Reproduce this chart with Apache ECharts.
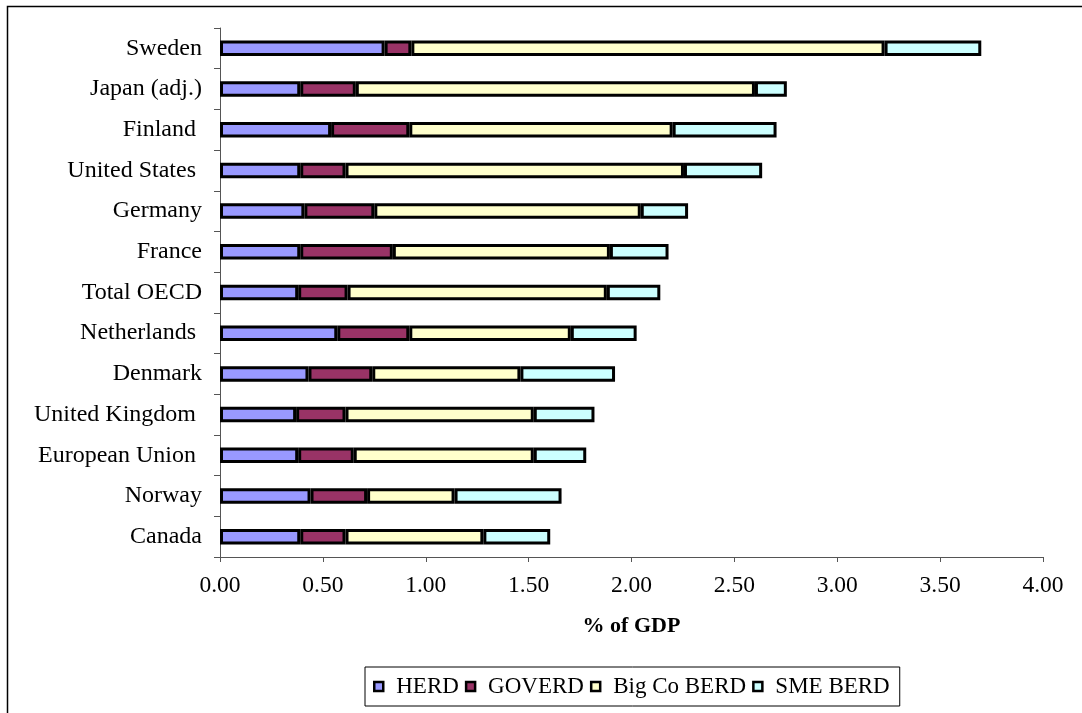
<!DOCTYPE html>
<html>
<head>
<meta charset="utf-8">
<script src="https://cdn.jsdelivr.net/npm/echarts@6/dist/echarts.min.js"></script>
<style>
  html, body { margin: 0; padding: 0; background: #fff; }
  #chart { width: 1082px; height: 713px; }
</style>
</head>
<body>
<div id="chart"></div>
<script>
// R&D expenditure by performing sector, % of GDP (listed top to bottom)
const countries = ['Sweden', 'Japan (adj.)', 'Finland ', 'United States ', 'Germany', 'France',
  'Total OECD', 'Netherlands ', 'Denmark', 'United Kingdom ', 'European Union ', 'Norway', 'Canada'];
const herd    = [0.80, 0.39, 0.54, 0.39, 0.41, 0.39, 0.38, 0.57, 0.43, 0.37, 0.38, 0.44, 0.39];
const goverd  = [0.13, 0.27, 0.38, 0.22, 0.34, 0.45, 0.24, 0.35, 0.31, 0.24, 0.27, 0.275, 0.22];
const bigCo   = [2.30, 1.94, 1.28, 1.645, 1.295, 1.055, 1.26, 0.785, 0.72, 0.915, 0.875, 0.425, 0.67];
const sme     = [0.47, 0.155, 0.505, 0.38, 0.23, 0.285, 0.26, 0.32, 0.46, 0.295, 0.255, 0.52, 0.325];
const seriesNames = ['HERD', 'GOVERD', 'Big Co BERD', 'SME BERD'];
const seriesColors = ['#9999FF', '#993366', '#FFFFCC', '#CCFFFF'];
const seriesValues = [herd, goverd, bigCo, sme];

const FONT = '"Liberation Serif", "Times New Roman", serif';

const chart = echarts.init(document.getElementById('chart'), null, { renderer: 'canvas' });

chart.setOption({
  animation: false,
  backgroundColor: '#ffffff',
  textStyle: { fontFamily: FONT, color: '#000' },
  graphic: [{
    type: 'rect',
    shape: { x: 7.5, y: 6.5, width: 1200, height: 800 },
    style: { fill: 'none', stroke: '#000', lineWidth: 1.5 },
    silent: true,
    z: 0
  }],
  grid: { left: 220, right: 39, top: 28, bottom: 156, containLabel: false },
  xAxis: {
    type: 'value',
    min: 0,
    max: 4,
    interval: 0.5,
    name: '% of GDP',
    nameLocation: 'middle',
    nameGap: 58,
    nameTextStyle: { fontFamily: FONT, fontSize: 22, fontWeight: 'bold', color: '#000', verticalAlign: 'top' },
    axisLine: { show: true, lineStyle: { color: '#555', width: 1 } },
    axisTick: { show: true, length: 5, lineStyle: { color: '#555' } },
    axisLabel: {
      fontFamily: FONT, fontSize: 23.5, color: '#000', margin: 17,
      formatter: v => v.toFixed(2)
    },
    splitLine: { show: false }
  },
  yAxis: {
    type: 'category',
    data: countries,
    inverse: true,
    axisLine: { show: true, lineStyle: { color: '#555', width: 1 } },
    axisTick: { show: true, length: 6, lineStyle: { color: '#555' } },
    axisLabel: { fontFamily: FONT, fontSize: 24, color: '#000', margin: 18 }
  },
  legend: {
    data: seriesNames,
    left: 365,
    top: 667,
    orient: 'horizontal',
    backgroundColor: '#fff',
    borderColor: '#000',
    borderWidth: 1,
    padding: [8, 10, 8, 8],
    itemGap: 6,
    itemWidth: 9,
    itemHeight: 9,
    icon: 'rect',
    textStyle: { fontFamily: FONT, fontSize: 23, color: '#000', padding: [0, 0, 0, 8] },
    itemStyle: { borderColor: '#000', borderWidth: 2.5 }
  },
  series: seriesNames.map((name, i) => ({
    name,
    type: 'bar',
    stack: 'total',
    barWidth: 15.5,
    data: seriesValues[i],
    itemStyle: { color: seriesColors[i], borderColor: '#000', borderWidth: 3 },
    emphasis: { disabled: true }
  }))
});
</script>
</body>
</html>
